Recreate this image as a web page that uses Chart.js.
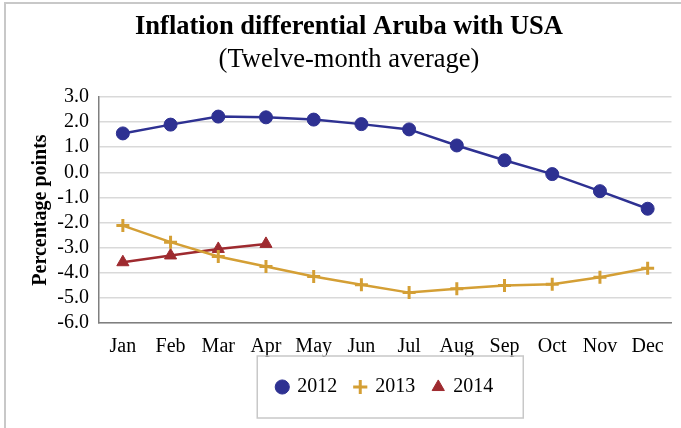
<!DOCTYPE html>
<html>
<head>
<meta charset="utf-8">
<script src="https://cdn.jsdelivr.net/npm/chart.js@4.4.1/dist/chart.umd.min.js"></script>
<style>
    html, body { margin: 0; padding: 0; background: #fff; }
</style>
</head>
<body>
<canvas id="inflationChart" width="681" height="428"></canvas>
<script>
// Chart data
const months = ['Jan', 'Feb', 'Mar', 'Apr', 'May', 'Jun', 'Jul', 'Aug', 'Sep', 'Oct', 'Nov', 'Dec'];
const values2012 = [1.55, 1.90, 2.22, 2.19, 2.10, 1.92, 1.71, 1.07, 0.48, -0.07, -0.75, -1.45];
const values2013 = [-2.12, -2.78, -3.35, -3.75, -4.15, -4.48, -4.79, -4.64, -4.51, -4.46, -4.18, -3.82];
const values2014 = [-3.58, -3.31, -3.05, -2.85];
const yMin = -6;
const yMax = 3;

const serif = "'Liberation Serif', 'Times New Roman', serif";

// Gray frame along top and left edge
const framePlugin = {
    id: 'frame',
    beforeDraw(chart) {
        const ctx = chart.ctx;
        ctx.save();
        ctx.fillStyle = '#ffffff';
        ctx.fillRect(0, 0, chart.width, chart.height);
        ctx.strokeStyle = '#c8c8c8';
        ctx.lineWidth = 2;
        ctx.beginPath();
        ctx.moveTo(5, chart.height);
        ctx.lineTo(5, 3);
        ctx.lineTo(chart.width, 3);
        ctx.stroke();
        ctx.restore();
    },
};

// Box around the legend items
const legendBoxPlugin = {
    id: 'legendBox',
    afterDraw(chart) {
        const boxes = chart.legend?.legendHitBoxes;
        if (!boxes || !boxes.length) return;
        const left = Math.min(...boxes.map(b => b.left)) - 20;
        const right = Math.max(...boxes.map(b => b.left + b.width)) + 30;
        const top = Math.min(...boxes.map(b => b.top)) - 21;
        const bottom = Math.max(...boxes.map(b => b.top + b.height)) + 21;
        const ctx = chart.ctx;
        ctx.save();
        ctx.strokeStyle = '#c8c8c8';
        ctx.lineWidth = 1.5;
        ctx.strokeRect(left, top, right - left, bottom - top);
        ctx.restore();
    },
};

new Chart(document.getElementById('inflationChart'), {
    type: 'line',
    data: {
        labels: months,
        datasets: [
            {
                label: '2012',
                data: values2012,
                borderColor: '#2e3192',
                backgroundColor: '#2e3192',
                borderWidth: 2.5,
                pointStyle: 'circle',
                pointRadius: 6.5,
                pointBorderWidth: 1,
            },
            {
                label: '2013',
                data: values2013,
                borderColor: '#d49f35',
                backgroundColor: '#d49f35',
                borderWidth: 2.5,
                pointStyle: 'cross',
                pointRadius: 6.5,
                pointBorderWidth: 3,
            },
            {
                label: '2014',
                data: values2014,
                borderColor: '#9e2a2f',
                backgroundColor: '#9e2a2f',
                borderWidth: 2.5,
                pointStyle: 'triangle',
                pointRadius: 7,
                pointBorderWidth: 1,
            },
        ],
    },
    options: {
        responsive: false,
        animation: false,
        layout: {
            padding: { left: 25, right: 8, top: 0, bottom: 21 },
        },
        scales: {
            x: {
                offset: true,
                grid: { display: false, drawTicks: false },
                border: { color: '#7f7f7f', width: 1.5 },
                ticks: {
                    color: '#000',
                    padding: 12,
                    font: { family: serif, size: 20 },
                    maxRotation: 0,
                    autoSkip: false,
                },
                afterFit(scale) {
                    scale.height = 36;
                },
            },
            y: {
                min: yMin,
                max: yMax,
                grid: { color: '#d9d9d9', lineWidth: 1.5, drawTicks: false },
                border: { color: '#7f7f7f', width: 1.5 },
                ticks: {
                    stepSize: 1,
                    autoSkip: false,
                    color: '#000',
                    padding: 10,
                    font: { family: serif, size: 20 },
                    callback: value => value.toFixed(1),
                },
                title: {
                    display: true,
                    text: 'Percentage points',
                    color: '#000',
                    padding: { top: 4, bottom: 4 },
                    font: { family: serif, size: 20, weight: 'bold' },
                },
                afterFit(scale) {
                    scale.width = 74;
                },
            },
        },
        plugins: {
            title: {
                display: true,
                text: 'Inflation differential Aruba with USA',
                color: '#000',
                padding: { top: 11, bottom: 1 },
                font: { family: serif, size: 26.5, weight: 'bold' },
            },
            subtitle: {
                display: true,
                text: '(Twelve-month average)',
                color: '#000',
                padding: { top: 0, bottom: 21.4 },
                font: { family: serif, size: 26.5 },
            },
            legend: {
                position: 'bottom',
                fullSize: false,
                labels: {
                    usePointStyle: true,
                    boxWidth: 10,
                    boxHeight: 10,
                    padding: 18,
                    color: '#000',
                    font: { family: serif, size: 20 },
                },
            },
            tooltip: { enabled: false },
        },
    },
    plugins: [framePlugin, legendBoxPlugin],
});
</script>
</body>
</html>
